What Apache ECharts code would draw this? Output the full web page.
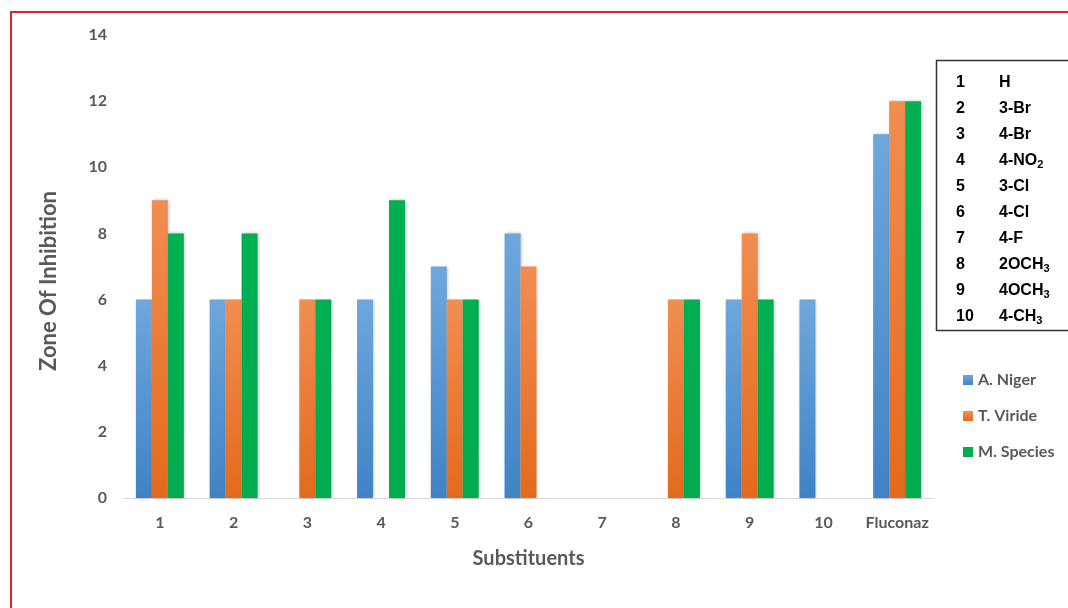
<!DOCTYPE html>
<html>
<head>
<meta charset="utf-8">
<script src="https://cdn.jsdelivr.net/npm/echarts@6/dist/echarts.min.js"></script>
<style>html,body{margin:0;padding:0;background:#fff;}#c{width:1068px;height:608px;}</style>
</head>
<body>
<div id="c"></div>
<script>
var categories = ['1','2','3','4','5','6','7','8','9','10','Fluconaz'];
var aNiger   = [6, 6, 0, 6, 7, 8, 0, 0, 6, 6, 11];
var tViride  = [9, 6, 6, 0, 6, 7, 0, 6, 8, 0, 12];
var mSpecies = [8, 8, 6, 9, 6, 0, 0, 6, 6, 0, 12];
var seriesNames = ['A. Niger', 'T. Viride', 'M. Species'];
var keyNumbers = ['1','2','3','4','5','6','7','8','9','10'];
var keyMain = ['H','3-Br','4-Br','4-NO','3-Cl','4-Cl','4-F','2OCH','4OCH','4-CH'];
var keySub  = ['','','','2','','','','3','3','3'];

var chart = echarts.init(document.getElementById('c'));
function grad(top, bottom){
  return new echarts.graphic.LinearGradient(0,0,0,1,[{offset:0,color:top},{offset:1,color:bottom}]);
}
var font = 'Lato, "Open Sans", sans-serif';
var gray = '#595959';
var arial = '"Liberation Sans", Arial, sans-serif';

var graphics = [
  {type:'rect', shape:{x:11, y:12, width:1100, height:700}, style:{fill:'none', stroke:'#d9262a', lineWidth:2}, z:100},
  {type:'rect', shape:{x:936.5, y:60.5, width:140, height:270}, style:{fill:'#fff', stroke:'#333', lineWidth:1.5}, z:50},
  {type:'text', x:49, y:281, rotation:Math.PI/2, style:{text:'Zone Of Inhibition', font:'bold 22px ' + font, fill:gray, textAlign:'center', textVerticalAlign:'middle'}}
];
for (var i = 0; i < keyNumbers.length; i++) {
  var y = 83 + i * 26;
  graphics.push({type:'text', x:956, y:y, z:51, style:{text:keyNumbers[i], font:'bold 16px ' + arial, fill:'#000', textVerticalAlign:'middle'}});
  var txt = '{m|' + keyMain[i] + '}' + (keySub[i] ? '{s|' + keySub[i] + '}' : '');
  graphics.push({type:'text', x:999, y:y, z:51, style:{
    text:txt, textVerticalAlign:'middle',
    rich:{
      m:{fontFamily:arial, fontWeight:'bold', fontSize:16, lineHeight:18, fill:'#000', color:'#000', verticalAlign:'middle'},
      s:{fontFamily:arial, fontWeight:'bold', fontSize:11, lineHeight:9, fill:'#000', color:'#000', verticalAlign:'bottom'}
    }
  }});
}

var barStyle = function(c1, c2){ return {color: grad(c1, c2), shadowColor:'rgba(0,0,0,0.25)', shadowBlur:3, shadowOffsetX:1}; };

chart.setOption({
  animation:false,
  backgroundColor:'#fff',
  grid:{left:123, right:134, top:35, bottom:110, containLabel:false},
  legend:{
    orient:'vertical', left:958, top:367, itemGap:20, itemWidth:10, itemHeight:10, icon:'rect',
    textStyle:{fontFamily:font, fontWeight:'bold', fontSize:16, color:gray},
    data:seriesNames
  },
  xAxis:{
    type:'category', data:categories,
    axisLine:{lineStyle:{color:'#d9d9d9', width:1}},
    axisTick:{show:false},
    axisLabel:{color:gray, fontFamily:font, fontWeight:'bold', fontSize:16, margin:17, interval:0},
    name:'Substituents', nameLocation:'middle', nameGap:51,
    nameTextStyle:{color:gray, fontFamily:font, fontWeight:'bold', fontSize:20}
  },
  yAxis:{
    type:'value', min:0, max:14, interval:2,
    splitLine:{show:false},
    axisLine:{show:false}, axisTick:{show:false},
    axisLabel:{color:gray, fontFamily:font, fontWeight:'bold', fontSize:16, margin:16}
  },
  graphic:graphics,
  series:[
    {name:seriesNames[0], type:'bar', data:aNiger, barGap:'0%', barCategoryGap:'35%', itemStyle:barStyle('#6fa7dc','#3f83c6')},
    {name:seriesNames[1], type:'bar', data:tViride, barGap:'0%', barCategoryGap:'35%', itemStyle:barStyle('#f28d52','#e36a1c')},
    {name:seriesNames[2], type:'bar', data:mSpecies, barGap:'0%', barCategoryGap:'35%', itemStyle:barStyle('#00b050','#00ac4e')}
  ]
});
</script>
</body>
</html>
